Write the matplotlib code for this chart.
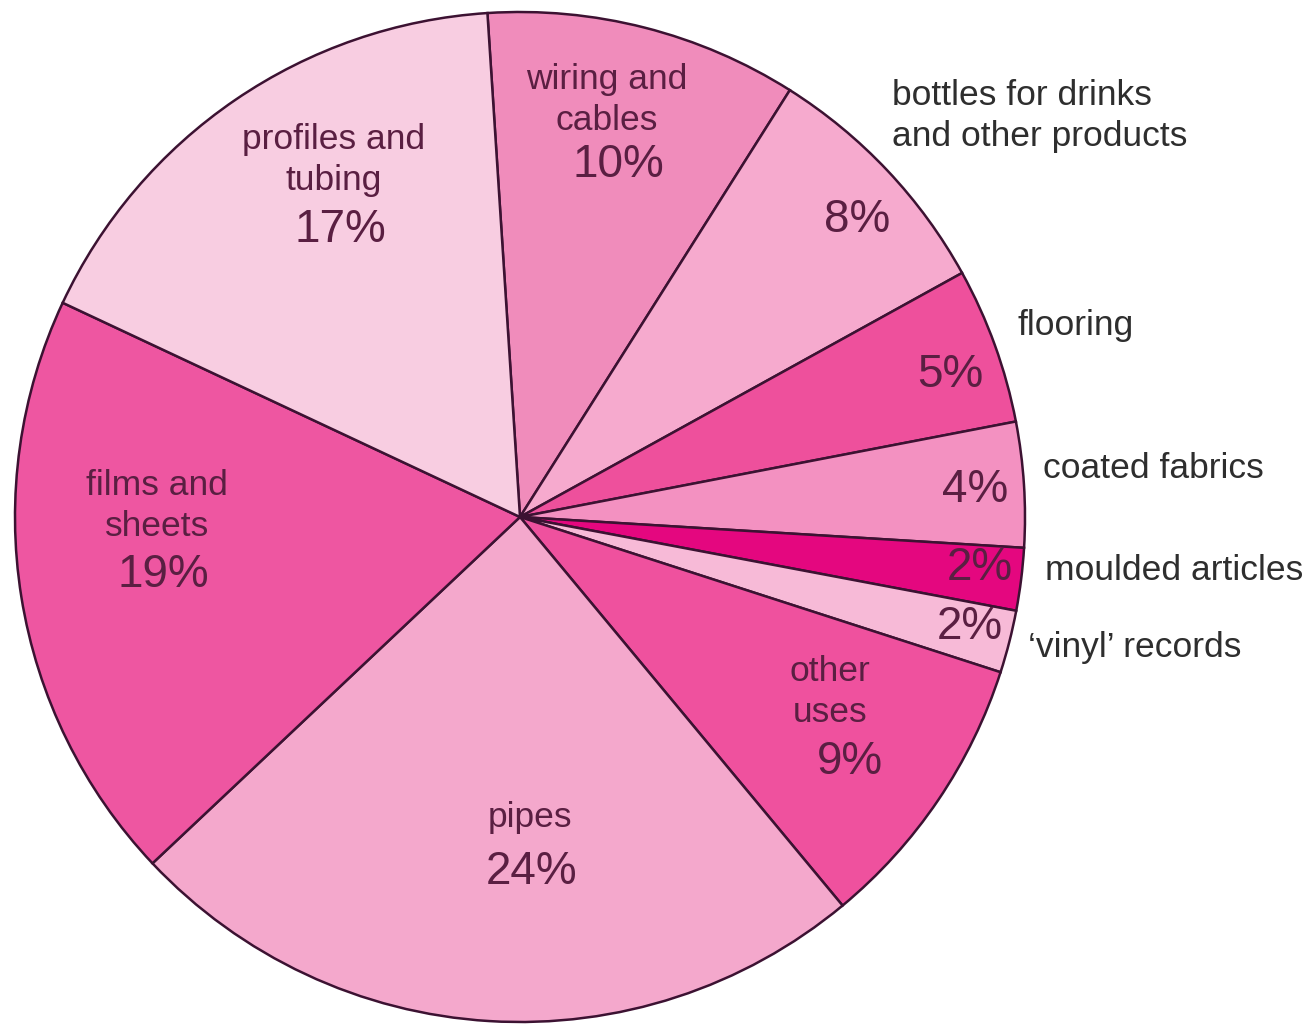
import numpy as np
import matplotlib.pyplot as plt

plt.rcParams['font.family'] = ['Liberation Sans', 'DejaVu Sans']

# data
categories = ['wiring and cables', 'bottles for drinks and other products', 'flooring',
              'coated fabrics', 'moulded articles', "'vinyl' records", 'other uses',
              'pipes', 'films and sheets', 'profiles and tubing']
values = [10, 8, 5, 4, 2, 2, 9, 24, 19, 17]
colors = ['#F08CBB', '#F6AACE', '#EE509C', '#F391C1', '#E4077F',
          '#F7BAD7', '#EF519E', '#F4A8CC', '#EE56A1', '#F8CDE1']

W, H = 1313, 1025
fig = plt.figure(figsize=(W / 100, H / 100), dpi=100)
ax = fig.add_axes([0, 0, 1, 1])

cx, cy, r = 520, H - 517, 505
ax.pie(values, colors=colors, startangle=93.7, counterclock=False,
       center=(cx, cy), radius=r,
       wedgeprops=dict(edgecolor='#3c1232', linewidth=1.8))
ax.set_xlim(0, W)
ax.set_ylim(0, H)
ax.set_aspect('equal')
ax.axis('off')

inner = '#5a1f42'
outer = '#2e2e2e'
lab_fs = 25.5
pct_fs = 33

def t(x, y, s, fs, col, ha='center'):
    ax.text(x, H - y, s, fontsize=fs, color=col, ha=ha, va='center', linespacing=1.3)

# labels inside slices
t(334, 160, 'profiles and\ntubing', lab_fs, inner)
t(340, 230, '17%', pct_fs, inner)
t(607, 100, 'wiring and\ncables', lab_fs, inner)
t(618, 165, '10%', pct_fs, inner)
t(857, 220, '8%', pct_fs, inner)
t(950, 375, '5%', pct_fs, inner)
t(975, 490, '4%', pct_fs, inner)
t(980, 568, '2%', pct_fs, inner)
t(970, 627, '2%', pct_fs, inner)
t(830, 692, 'other\nuses', lab_fs, inner)
t(850, 762, '9%', pct_fs, inner)
t(530, 817, 'pipes', lab_fs, inner)
t(532, 872, '24%', pct_fs, inner)
t(157, 506, 'films and\nsheets', lab_fs, inner)
t(163, 575, '19%', pct_fs, inner)

# labels outside
t(892, 116, 'bottles for drinks\nand other products', lab_fs, outer, ha='left')
t(1018, 325, 'flooring', lab_fs, outer, ha='left')
t(1043, 468, 'coated fabrics', lab_fs, outer, ha='left')
t(1045, 570, 'moulded articles', lab_fs, outer, ha='left')
t(1028, 648, '\u2018vinyl\u2019 records', lab_fs, outer, ha='left')

fig.savefig('out.png', dpi=100, facecolor='white')
